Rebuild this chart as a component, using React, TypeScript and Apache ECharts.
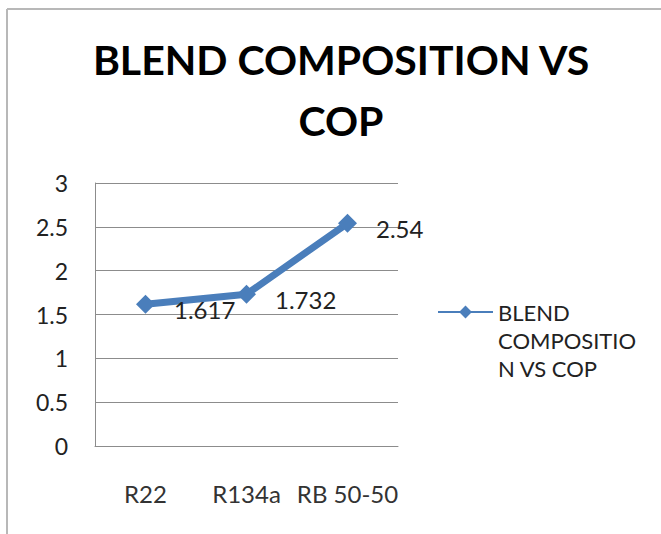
import React, { useEffect, useRef } from "react";
import * as echarts from "echarts";

const categories = ["R22", "R134a", "RB 50-50"];
const copValues = [1.617, 1.732, 2.54];
const seriesName = "BLEND COMPOSITION VS COP";
const titleText = "BLEND COMPOSITION VS\nCOP";
const legendLines = ["BLEND", "COMPOSITIO", "N VS COP"];
const yTicks = { min: 0, max: 3, interval: 0.5 };

const BODY_FONT = "Lato, 'Open Sans', sans-serif";
const TITLE_FONT = "Lato, 'Open Sans', sans-serif";
const BLUE = "#4a7ebb";

export default function App() {
  const ref = useRef<HTMLDivElement>(null);
  useEffect(() => {
    if (!ref.current) return;
    const chart = echarts.init(ref.current, null, { renderer: "svg" });
    chart.setOption({
      animation: false,
      backgroundColor: "#ffffff",
      title: {
        text: titleText,
        left: 336,
        top: 24,
        textAlign: "center",
        textStyle: {
          fontFamily: TITLE_FONT,
          fontWeight: "bold",
          fontSize: 41,
          lineHeight: 61,
          color: "#000000",
        },
      },
      graphic: [
        { type: "line", shape: { x1: 7, y1: 9, x2: 661, y2: 9 }, style: { stroke: "#b8b8b8", lineWidth: 2 } },
        { type: "line", shape: { x1: 7, y1: 9, x2: 7, y2: 534 }, style: { stroke: "#b8b8b8", lineWidth: 2 } },
      ],
      legend: {
        left: 432,
        top: 237,
        itemWidth: 55,
        itemHeight: 16,
        itemGap: 0,
        data: [seriesName],
        formatter: () => "\n\n" + legendLines.join("\n"),
        textStyle: {
          fontFamily: BODY_FONT,
          fontSize: 22,
          lineHeight: 28,
          color: "#222222",
        },
      },
      grid: { left: 95, right: 263, top: 183, bottom: 88, containLabel: false },
      xAxis: {
        type: "category",
        data: categories,
        boundaryGap: true,
        axisLine: { show: true, lineStyle: { color: "#8c8c8c", width: 1 } },
        axisTick: { show: false },
        axisLabel: {
          interval: 0,
          margin: 35,
          fontFamily: BODY_FONT,
          fontSize: 24,
          color: "#333333",
        },
      },
      yAxis: {
        type: "value",
        min: yTicks.min,
        max: yTicks.max,
        interval: yTicks.interval,
        axisLine: { show: true, lineStyle: { color: "#8c8c8c", width: 1 } },
        axisTick: { show: false },
        splitLine: { show: true, lineStyle: { color: "#8c8c8c", width: 1 } },
        axisLabel: {
          margin: 27,
          fontFamily: BODY_FONT,
          fontSize: 23,
          color: "#222222",
        },
      },
      series: [
        {
          name: seriesName,
          type: "line",
          data: copValues,
          symbol: "diamond",
          symbolSize: 19,
          color: BLUE,
          lineStyle: { color: BLUE, width: 7 },
          itemStyle: { color: BLUE },
          label: {
            show: true,
            position: "right",
            distance: 19,
            offset: [0, 5],
            fontFamily: BODY_FONT,
            fontSize: 24,
            color: "#222222",
          },
        },
      ],
    });
    return () => chart.dispose();
  }, []);
  return (
    <div
      ref={ref}
      style={{ position: "fixed", left: 0, top: 0, width: 661, height: 534 }}
    />
  );
}
